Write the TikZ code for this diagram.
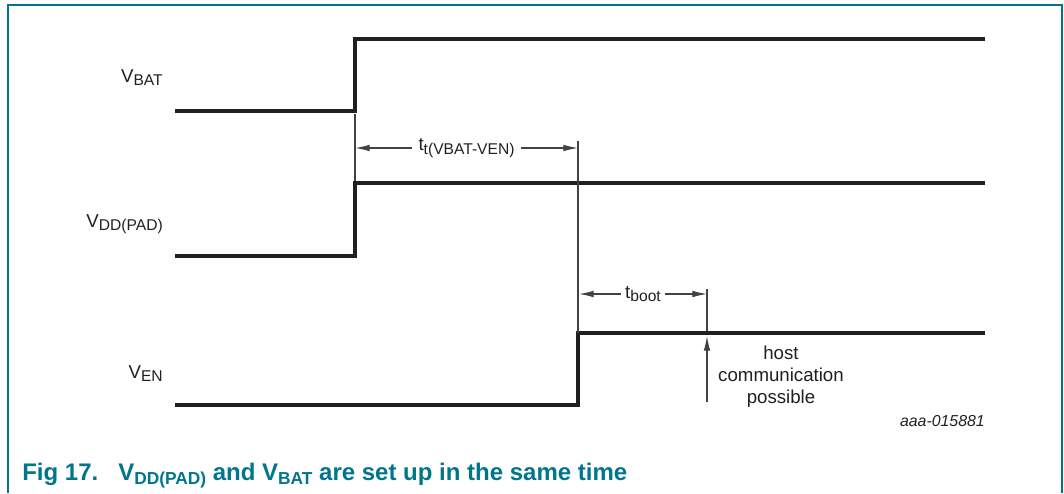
\documentclass[tikz,border=0pt]{standalone}
\usepackage{fontspec}
\setmainfont{Liberation Sans}
\usetikzlibrary{arrows.meta,calc,positioning}
\definecolor{nxpteal}{RGB}{0,118,140}
\definecolor{sig}{RGB}{35,31,32}
\newcommand{\lowtext}[1]{\raisebox{-2.5pt}{\fontsize{11.7}{12}\selectfont #1}}
\newcommand{\caplow}[1]{\raisebox{-3pt}{\fontsize{13}{14}\selectfont #1}}

\begin{document}
\begin{tikzpicture}
[x=0.75pt,y=-0.75pt,
signal/.style={
	line width=2.5pt,
	color=sig,
    },
thinline/.style={line width=0.9pt,color=sig!85},
dimarrow/.style={thinline,-{Latex[length=11pt,width=5pt]}},
siglabel/.style={anchor=base east,inner sep=0pt,text=sig,font=\fontsize{14}{16}\selectfont},
dimlabel/.style={inner xsep=5pt,inner ysep=0pt,text=sig,font=\fontsize{14}{16}\selectfont},]
\useasboundingbox (0,0) rectangle (1064,493);
% frame
\draw[nxpteal,line width=1.2pt] (8,493) -- (8,5) -- (1062,5) -- (1062,493);

% signal names
\node[siglabel] (vbat) at (163,82) {V\lowtext{BAT}};
\node[siglabel] (vdd) at (163,227) {V\lowtext{DD(PAD)}};
\node[siglabel] (ven) at (163,378) {V\lowtext{EN}};

% draw the signals
\draw[signal] (175,111) -- (355,111) -- (355,39) -- (985,39);
\draw[signal] (175,256) -- (355,256) -- (355,183) -- (985,183);
\draw[signal] (175,405) -- (578,405) -- (578,333) -- (985,333);

% timing marks
\draw[thinline] (355,114) -- (355,181);
\draw[thinline] (578,141) -- (578,333);
\draw[thinline] (707,289) -- (707,331);

\coordinate (ttl) at (355,148);
\coordinate (ttr) at (578,148);
\node[dimlabel] (tt) at ($(ttl)!0.5!(ttr)$) {t\lowtext{t(VBAT-VEN)}};
\draw[dimarrow] (tt.west |- ttl) -- (ttl);
\draw[dimarrow] (tt.east |- ttr) -- (ttr);

\coordinate (bootl) at (579,294);
\coordinate (bootr) at (707,294);
\node[dimlabel,inner xsep=3pt] (tboot) at ($(bootl)!0.5!(bootr)$) {t\lowtext{boot}};
\draw[dimarrow] (tboot.west |- bootl) -- (bootl);
\draw[dimarrow] (tboot.east |- bootr) -- (bootr);

% host communication
\coordinate (hostbot) at (707,402);
\coordinate (hosttop) at (707,336);
\draw[dimarrow] (hostbot) -- (hosttop);
\node[anchor=north,inner sep=0pt,align=center,text=sig,font=\fontsize{14}{16.5}\selectfont] (host) at (781,346) {host\\communication\\possible};

% id and caption
\node[anchor=base east,inner sep=0pt,text=sig,font=\fontsize{11.9}{13}\selectfont\itshape] (id) at (985,426) {aaa-015881};
\node[anchor=base west,inner sep=0pt,text=nxpteal,font=\bfseries\fontsize{18}{20}\selectfont] (cap) at (22,480) {Fig 17.\hspace{15pt}V\caplow{DD(PAD)} and V\caplow{BAT} are set up in the same time};
\end{tikzpicture}
\end{document}
